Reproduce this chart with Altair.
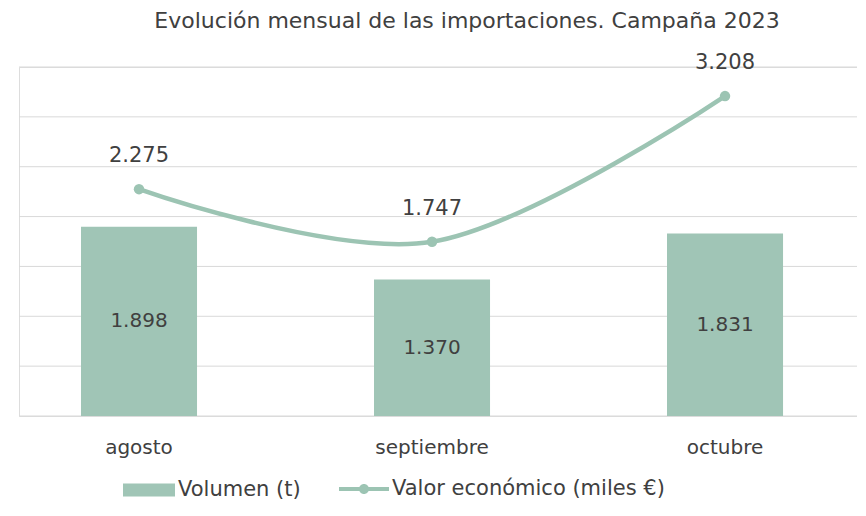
import altair as alt
import pandas as pd

meses = ["agosto", "septiembre", "octubre"]
volumen = [1898, 1370, 1831]
valor = [2275, 1747, 3208]
ticks_y = [0, 500, 1000, 1500, 2000, 2500, 3000, 3500]


def es(v):
    return f"{v:,}".replace(",", ".")


df = pd.DataFrame({
    "mes": meses,
    "vol": volumen,
    "val": valor,
    "vol_lbl": [es(v) for v in volumen],
    "val_lbl": [es(v) for v in valor],
})
grid_df = pd.DataFrame({"g": ticks_y})

FONT = "DejaVu Sans"
TXT = "#404040"
BAR_C = "#a0c5b6"
LINE_C = "#9cc4b3"
W = 838

x = alt.X(
    "mes:N",
    sort=meses,
    scale=alt.Scale(paddingInner=0.604, paddingOuter=0.232, align=0.456),
    axis=alt.Axis(title=None, labelAngle=0, domain=False, ticks=False, grid=False,
                  labelFontSize=20, labelPadding=21, labelColor=TXT, labelFont=FONT),
)
yscale = alt.Scale(domain=[0, 3500])

grid = alt.Chart(grid_df).mark_rule(color="#d9d9d9", strokeWidth=1).encode(
    y=alt.Y("g:Q", scale=yscale, axis=None),
    x=alt.value(0),
    x2=alt.value(W),
)

base = alt.Chart(df)

bars = base.mark_bar(color=BAR_C).encode(
    x=x,
    y=alt.Y("vol:Q", scale=yscale, axis=None),
    color=alt.Color(
        "s:N",
        scale=alt.Scale(range=[BAR_C]),
        legend=alt.Legend(
            title=None, orient="none", legendX=104, legendY=397,
            symbolType="M-1,-0.25H1V0.25H-1Z", symbolSize=2704,
            symbolStrokeWidth=0, symbolOpacity=1, labelFontSize=21,
            labelColor=TXT, labelFont=FONT, labelOffset=3, labelLimit=500,
        ),
    ),
).transform_calculate(s="'Volumen (t)'")

bar_text = base.mark_text(fontSize=20, font=FONT, color=TXT, baseline="middle").transform_calculate(
    mid="datum.vol / 2"
).encode(x=x, y=alt.Y("mid:Q", scale=yscale, axis=None), text="vol_lbl:N")

line = base.mark_line(interpolate="cardinal", strokeWidth=4.5, color=LINE_C).encode(
    x=x,
    y=alt.Y("val:Q", scale=yscale, axis=None),
    color=alt.Color(
        "s:N",
        scale=alt.Scale(range=[LINE_C]),
        legend=alt.Legend(
            title=None, orient="none", legendX=320, legendY=397,
            symbolType="M-1,-0.08H1V0.08H-1Z M0.2,0A0.2,0.2 0 1,1 -0.2,0A0.2,0.2 0 1,1 0.2,0",
            symbolSize=2500, symbolFillColor=LINE_C, symbolStrokeWidth=0,
            symbolOpacity=1, labelFontSize=21, labelColor=TXT, labelFont=FONT,
            labelOffset=3, labelLimit=500,
        ),
    ),
).transform_calculate(s="'Valor económico  (miles €)'")

points = base.mark_circle(size=110, color=LINE_C, opacity=1).encode(
    x=x, y=alt.Y("val:Q", scale=yscale, axis=None)
)

line_text = base.mark_text(fontSize=21, font=FONT, color=TXT, dy=-33, baseline="middle").encode(
    x=x, y=alt.Y("val:Q", scale=yscale, axis=None), text="val_lbl:N"
)

chart = alt.layer(grid, bars, bar_text, line, points, line_text).resolve_scale(
    color="independent"
).properties(
    width=W,
    height=349,
    autosize=alt.AutoSizeParams(type="none"),
    padding={"left": 11, "top": 59, "right": 0, "bottom": 89},
    title=alt.TitleParams(
        "Evolución mensual de las importaciones. Campaña 2023",
        fontSize=22, font=FONT, color=TXT, fontWeight="normal",
        anchor="middle", frame="group", offset=-3, baseline="bottom", dx=29,
    ),
).configure_view(stroke="transparent", strokeWidth=0).configure_axis(
    domain=False, ticks=False
).configure_axisX(grid=False).configure(background="white")

chart.save("out.html", embed_options={"renderer": "svg", "actions": False})
